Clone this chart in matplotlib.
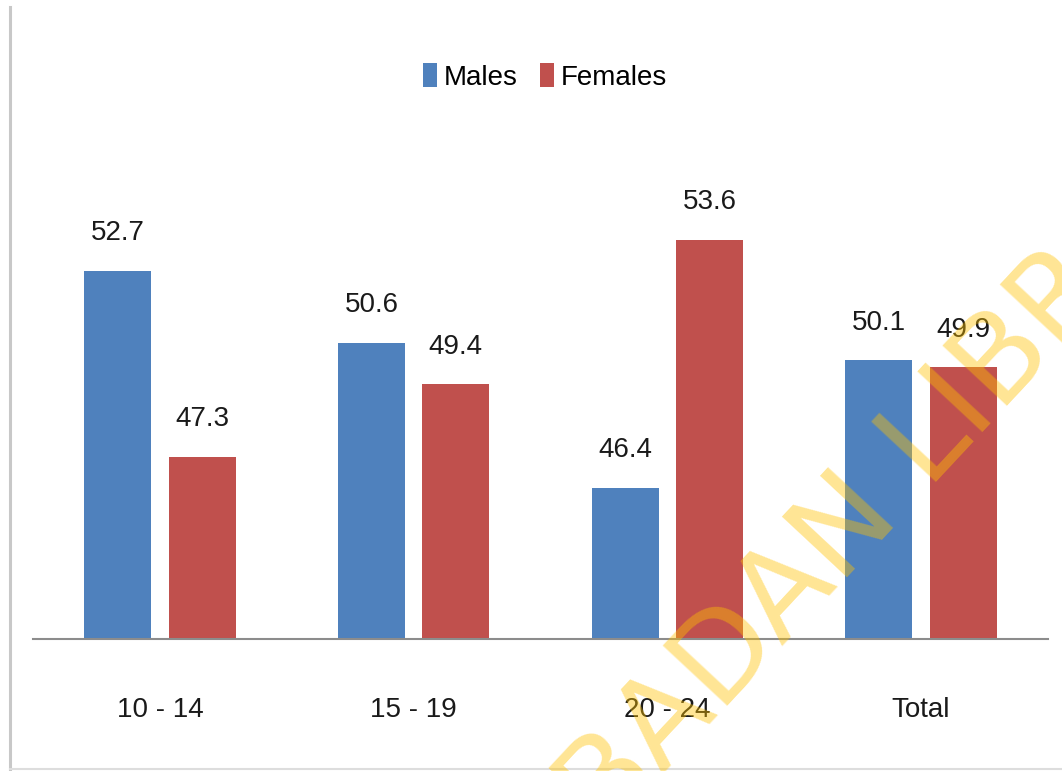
import matplotlib
matplotlib.use("Agg")
import matplotlib.pyplot as plt
import numpy as np
from matplotlib.lines import Line2D

# Share of the population by age group and sex (%)
age_groups = ["10 - 14", "15 - 19", "20 - 24", "Total"]
males = [52.7, 50.6, 46.4, 50.1]
females = [47.3, 49.4, 53.6, 49.9]

BLUE = "#4F81BD"
RED = "#C0504D"

plt.rcParams["font.family"] = ["Liberation Sans", "DejaVu Sans"]

fig = plt.figure(figsize=(10.62, 7.71), dpi=100)
ax = fig.add_axes([0.0311, 0.1712, 0.9557, 0.5357])

x = np.arange(len(age_groups))
w = 0.264
off = w / 2 + 0.034

bm = ax.bar(x - off, males, w, color=BLUE, label="Males", zorder=2)
bf = ax.bar(x + off, females, w, color=RED, label="Females", zorder=2)

for bars, vals in ((bm, males), (bf, females)):
    for b, v in zip(bars, vals):
        ax.annotate(f"{v:.1f}", (b.get_x() + b.get_width() / 2, v),
                    xytext=(0, 22), textcoords="offset points",
                    ha="center", va="baseline", fontsize=20, color="#1a1a1a")

ax.set_ylim(42, 54)
ax.set_xlim(-0.5, len(age_groups) - 0.5)
ax.set_yticks([])
ax.set_xticks(x)
ax.set_xticklabels(age_groups, fontsize=20, color="#1a1a1a")
ax.tick_params(axis="x", length=0, pad=42)
for side in ("top", "left", "right"):
    ax.spines[side].set_visible(False)
ax.spines["bottom"].set_color("#8C8C8C")
ax.spines["bottom"].set_linewidth(1.5)
ax.spines["bottom"].set_zorder(3)

fig.legend(handles=[bm, bf], loc="center", bbox_to_anchor=(0.513, 0.9),
           ncol=2, frameon=False, fontsize=20, handlelength=0.5,
           handleheight=0.95, handletextpad=0.25, columnspacing=0.8)

# chart frame (left and bottom edges)
fig.add_artist(Line2D([0.0095, 0.0095], [0.0, 0.991], color="#C8C8C8", lw=2.2))
fig.add_artist(Line2D([0.0095, 1.0], [0.003, 0.003], color="#DDDDDD", lw=1.5))

# library watermark
fig.text(0.872, 0.362, "IBADAN LIBRARY", rotation=47, rotation_mode="anchor",
         ha="center", va="baseline", fontsize=88, color="#FFC200", alpha=0.42,
         family="DejaVu Sans", zorder=10)

fig.savefig("out.png", dpi=100)
